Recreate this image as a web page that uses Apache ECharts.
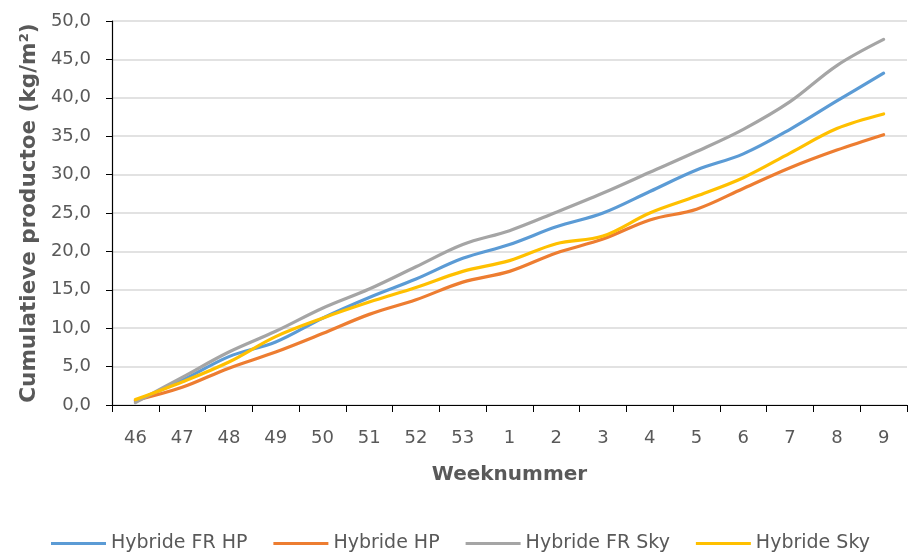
<!DOCTYPE html>
<html>
<head>
<meta charset="utf-8">
<script src="https://cdn.jsdelivr.net/npm/echarts@6/dist/echarts.min.js"></script>
<style>
  html, body { margin: 0; padding: 0; background: #ffffff; }
  #chart { width: 908px; height: 552px; }
</style>
</head>
<body>
<div id="chart"></div>
<script>
// Week numbers across the season (year change after week 53)
var weeks = ['46', '47', '48', '49', '50', '51', '52', '53', '1', '2', '3', '4', '5', '6', '7', '8', '9'];

// Cumulative production per variety (kg/m²)
var hybrideFrHp  = [0.5, 3.2, 6.3, 8.2, 11.3, 14.0, 16.4, 19.1, 20.9, 23.2, 25.0, 27.8, 30.6, 32.7, 35.9, 39.6, 43.2];
var hybrideHp    = [0.6, 2.3, 4.8, 6.9, 9.3, 11.8, 13.7, 16.0, 17.4, 19.8, 21.6, 24.1, 25.5, 28.2, 30.9, 33.2, 35.2];
var hybrideFrSky = [0.3, 3.6, 6.9, 9.6, 12.6, 15.1, 18.0, 20.9, 22.7, 25.1, 27.6, 30.3, 33.0, 35.9, 39.5, 44.2, 47.6];
var hybrideSky   = [0.7, 3.0, 5.6, 8.9, 11.3, 13.4, 15.3, 17.4, 18.8, 21.0, 22.0, 25.0, 27.2, 29.6, 32.8, 36.0, 37.9];

var seriesNames = ['Hybride FR HP', 'Hybride HP', 'Hybride FR Sky', 'Hybride Sky'];
var seriesData = [hybrideFrHp, hybrideHp, hybrideFrSky, hybrideSky];
var seriesColors = ['#5B9BD5', '#ED7D31', '#A5A5A5', '#FFC000'];

var font = 'DejaVu Sans';
var textColor = '#595959';

var chart = echarts.init(document.getElementById('chart'), null, { renderer: 'canvas' });

chart.setOption({
  animation: false,
  backgroundColor: '#ffffff',
  color: seriesColors,
  grid: { left: 112, right: 1, top: 21, bottom: 147, containLabel: false, outerBoundsMode: 'none' },
  legend: {
    bottom: -6,
    left: 46,
    itemWidth: 55,
    itemHeight: 3,
    itemGap: 26,
    icon: 'rect',
    textStyle: { fontFamily: font, fontSize: 19, color: textColor },
    data: seriesNames
  },
  xAxis: {
    type: 'category',
    data: weeks,
    boundaryGap: true,
    name: 'Weeknummer',
    nameLocation: 'middle',
    nameGap: 60,
    nameTextStyle: { fontFamily: font, fontSize: 20, fontWeight: 'bold', color: textColor },
    axisLine: { lineStyle: { color: '#000000', width: 1.2 } },
    axisTick: { show: true, length: 7, inside: false, lineStyle: { color: '#000000' } },
    axisLabel: { fontFamily: font, fontSize: 18, color: textColor, margin: 24 },
    splitLine: { show: false }
  },
  yAxis: {
    type: 'value',
    min: 0,
    max: 50,
    interval: 5,
    name: 'Cumulatieve productoe (kg/m²)',
    nameLocation: 'middle',
    nameRotate: 90,
    nameGap: 72,
    nameTextStyle: { fontFamily: font, fontSize: 21.5, fontWeight: 'bold', color: textColor },
    axisLine: { show: true, lineStyle: { color: '#000000', width: 1.2 } },
    axisTick: { show: true, length: 6, inside: false, lineStyle: { color: '#000000' } },
    axisLabel: {
      fontFamily: font, fontSize: 18, color: textColor, margin: 21,
      formatter: function (v) { return v.toFixed(1).replace('.', ','); }
    },
    splitLine: { show: true, lineStyle: { color: '#D9D9D9', width: 1.5 } }
  },
  series: seriesNames.map(function (name, i) {
    return {
      name: name,
      type: 'line',
      data: seriesData[i],
      smooth: 0.35,
      showSymbol: false,
      symbol: 'none',
      lineStyle: { width: 3.2, color: seriesColors[i], cap: 'round' },
      itemStyle: { color: seriesColors[i] }
    };
  })
});
</script>
</body>
</html>
